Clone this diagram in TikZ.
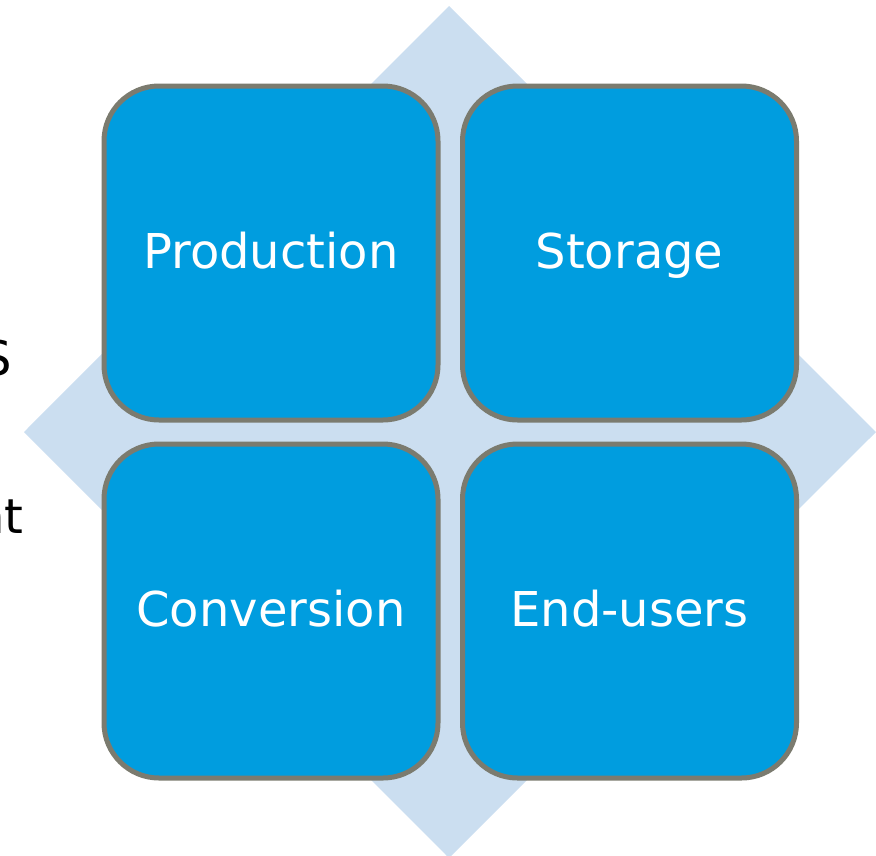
\documentclass[tikz,border=0pt]{standalone}
\usepackage{fontspec}
\setmainfont{DejaVu Sans}
\begin{document}
\begin{tikzpicture}[x=1pt,y=-1pt,
  cell/.style={draw=cellborder, line width=5pt, fill=cellfill, rounded corners=55pt,
    minimum width=334pt, minimum height=334pt, inner sep=0pt,
    text height=43pt, text depth=13pt,
    text=white, font=\fontsize{48}{52}\selectfont},
  sidetext/.style={anchor=base east, inner sep=0pt, text=black, font=\fontsize{48}{52}\selectfont}]
\definecolor{cellfill}{RGB}{0,157,223}
\definecolor{cellborder}{RGB}{123,123,111}
\definecolor{diamondfill}{RGB}{203,222,240}
\useasboundingbox (0,0) rectangle (876,855);
\fill[diamondfill] (449,6) -- (876,432) -- (449,858) -- (24,432) -- cycle;
\node[sidetext] (s) at (12,375) {S};
\node[sidetext] (nt) at (24,533) {nt};
\node[cell] (prod) at (271,253) {Production};
\node[cell] (stor) at (629.5,253) {Storage};
\node[cell] (conv) at (271,611) {Conversion};
\node[cell] (end) at (629.5,611) {End-users};
\end{tikzpicture}
\end{document}
